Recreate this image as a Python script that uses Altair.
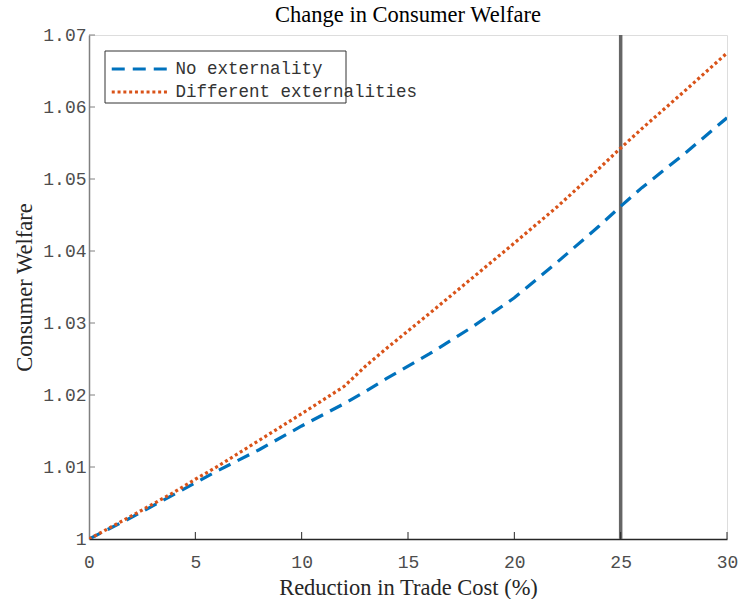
import altair as alt
import pandas as pd

# Reduction in trade cost (%) and consumer welfare for each scenario
cost_cut = [0, 2, 4, 5, 6, 8, 10, 12, 13, 14, 16, 18, 20, 22, 24, 25, 26, 28, 30]
welfare_no_ext = [1.0000, 1.0030, 1.0062, 1.0078, 1.0094, 1.0124, 1.0157, 1.0188, 1.0205,
                  1.0223, 1.0257, 1.0294, 1.0335, 1.0384, 1.0435, 1.0462, 1.0488, 1.0535, 1.0585]
welfare_diff_ext = [1.0000, 1.0032, 1.0065, 1.0083, 1.0100, 1.0137, 1.0174, 1.0212, 1.0240,
                    1.0265, 1.0313, 1.0362, 1.0411, 1.0461, 1.0515, 1.0543, 1.0570, 1.0622, 1.0675]
series_names = ["No externality", "Different externalities"]
series_colors = ["#0072BD", "#D95319"]
series_dashes = [[13, 8], [3, 2.8]]

x_ticks = [5, 10, 15, 20, 25, 30]
y_ticks = [1.01, 1.02, 1.03, 1.04, 1.05, 1.06, 1.07]
marker_x = 25

W, H = 638, 504
serif = "Liberation Serif"
mono = "Liberation Mono"

df = pd.concat([
    pd.DataFrame({"cut": cost_cut, "welfare": welfare_no_ext, "series": series_names[0]}),
    pd.DataFrame({"cut": cost_cut, "welfare": welfare_diff_ext, "series": series_names[1]}),
])

xscale = alt.Scale(domain=[0, 30], nice=False, zero=False)
yscale = alt.Scale(domain=[1.0, 1.07], nice=False, zero=False)

# Legend: a short symbol box with a long stroke path drawn across it
legend_opts = dict(
    title=None, orient="none", legendX=16, legendY=16,
    symbolType="M-2.5,0H2.5", symbolSize=529, symbolStrokeWidth=3,
    symbolOffset=17.5, labelOffset=22, labelLimit=400,
    labelFont=mono, labelFontSize=17.5, labelColor="#333333",
    rowPadding=1, padding=5,
)

lines = alt.Chart(df).mark_line(strokeWidth=3.2, clip=True).encode(
    x=alt.X("cut:Q", scale=xscale,
            axis=alt.Axis(title="Reduction in Trade Cost (%)", values=[0] + x_ticks,
                          ticks=False, grid=False, domainColor="#262626", domainWidth=1.5,
                          labelFont=mono, labelFontSize=18, labelColor="#4d4d4d",
                          labelFlush=False, labelPadding=14, titleFont=serif, titleFontSize=22.5,
                          titleFontWeight="normal", titleColor="#262626", titlePadding=5)),
    y=alt.Y("welfare:Q", scale=yscale,
            axis=alt.Axis(title="Consumer Welfare", values=[1.0] + y_ticks,
                          labelExpr="datum.value == 1 ? '1' : format(datum.value, '.2f')",
                          ticks=False, grid=False, domainColor="#808080", domainWidth=1.5,
                          labelFont=mono, labelFontSize=18, labelColor="#4d4d4d",
                          labelFlush=False, labelPadding=3, titleFont=serif, titleFontSize=22.5,
                          titleFontWeight="normal", titleColor="#262626", titlePadding=6)),
    color=alt.Color("series:N", sort=series_names,
                    scale=alt.Scale(domain=series_names, range=series_colors),
                    legend=alt.Legend(**legend_opts)),
    strokeDash=alt.StrokeDash("series:N", sort=series_names,
                              scale=alt.Scale(domain=series_names, range=series_dashes),
                              legend=alt.Legend(**legend_opts)),
)

# Legend frame, narrower than the longest label
legend_frame = alt.Chart(pd.DataFrame({"k": [0]})).mark_rect(
    fill="white", stroke="#333333", strokeWidth=1).encode(
    x=alt.value(16), x2=alt.value(257), y=alt.value(16), y2=alt.value(68))

vline = alt.Chart(pd.DataFrame({"x": [marker_x]})).mark_rule(
    color="#666666", strokeWidth=3.5).encode(x=alt.X("x:Q", scale=xscale))

xtick_marks = alt.Chart(pd.DataFrame({"t": x_ticks})).mark_rule(
    color="#262626", strokeWidth=1).encode(
    x=alt.X("t:Q", scale=xscale), y=alt.value(H), y2=alt.value(H - 7))

ytick_marks = alt.Chart(pd.DataFrame({"t": y_ticks})).mark_rule(
    color="#808080", strokeWidth=1).encode(
    y=alt.Y("t:Q", scale=yscale), x=alt.value(0), x2=alt.value(6))

chart = alt.layer(vline, xtick_marks, ytick_marks, legend_frame, lines).properties(
    width=W, height=H,
    title=alt.Title("Change in Consumer Welfare", font=serif, fontSize=22.5,
                    fontWeight="normal", color="#000000", offset=0, anchor="middle"),
    autosize=alt.AutoSizeParams(type="none"),
    padding={"left": 89, "top": 35, "right": 13, "bottom": 60},
).configure_view(stroke=None).configure(background="white")

chart.save("out.html", embed_options={"renderer": "svg", "actions": False})
